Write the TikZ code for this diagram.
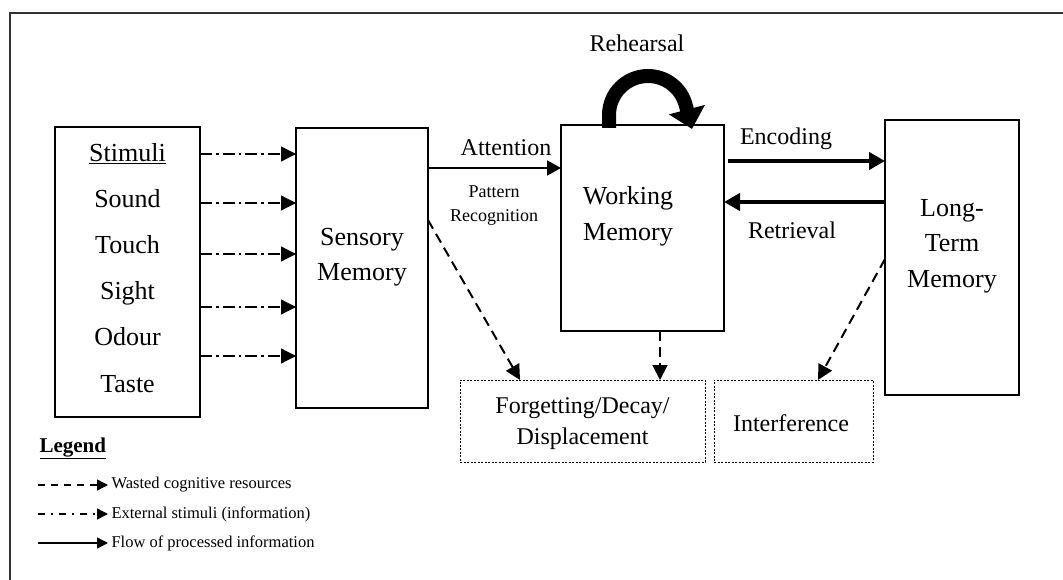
\documentclass[tikz,border=0pt]{standalone}
\usepackage{fontspec}
\setmainfont{Liberation Serif}
\usetikzlibrary{arrows.meta,calc}

\tikzset{
  big/.style={font=\fontsize{26bp}{35.5bp}\selectfont},
  mid/.style={font=\fontsize{24bp}{31bp}\selectfont},
  small/.style={font=\fontsize{18bp}{24bp}\selectfont},
  leg/.style={font=\fontsize{16.5bp}{20bp}\selectfont},
  stagebox/.style={draw, line width=1.8bp, inner sep=0pt, outer sep=0pt},
  outcomebox/.style={draw, line width=0.9bp, dash pattern=on 2bp off 1.5bp, inner sep=0pt, outer sep=0pt},
  extarrow/.style={line width=1.3bp, dash pattern=on 12bp off 4bp on 2.5bp off 4bp,
    -{Triangle[length=15bp,width=15bp]}},
  flowarrow/.style={line width=2bp, -{Triangle[length=14bp,width=15bp]}},
  heavyarrow/.style={line width=4.5bp, -{Triangle[length=16bp,width=17bp]}},
  wastearrow/.style={line width=2bp, dash pattern=on 10bp off 6bp,
    -{Triangle[length=15bp,width=15bp]}},
  loopback/.style={line width=14bp, -{Triangle[length=20bp,width=36bp]}},
  legwaste/.style={line width=1.5bp, dash pattern=on 7bp off 6bp, -{Triangle[length=11bp,width=11bp]}},
  legext/.style={line width=1.5bp, dash pattern=on 7bp off 6bp on 2bp off 6bp, -{Triangle[length=11bp,width=11bp]}},
  legflow/.style={line width=1.5bp, -{Triangle[length=11bp,width=11bp]}},
}

\begin{document}
\begin{tikzpicture}[x=1bp,y=-1bp]
\useasboundingbox (0,0) rectangle (1063,580);

% outer frame (top and left edges)
\draw[line width=2.2bp, black!80] (10,580) -- (10,13) -- (1063,13);

% main stages
\node[stagebox, minimum width=145bp, minimum height=290bp] (stim) at (127.5,272) {};
\node[stagebox, minimum width=132bp, minimum height=280bp] (sens) at (362,268) {};
\node[stagebox, minimum width=163bp, minimum height=206bp] (wm) at (642.5,228) {};
\node[stagebox, minimum width=134bp, minimum height=275bp] (ltm) at (952,257.5) {};
\node[outcomebox, minimum width=245bp, minimum height=82bp] (forget) at (582.5,421) {};
\node[outcomebox, minimum width=159bp, minimum height=82bp] (inter) at (793.5,421) {};

% stimuli list
\node[big, anchor=base] (s0) at (127.5,162) {\underline{Stimuli}};
\node[big, anchor=base] (s1) at (127.5,208) {Sound};
\node[big, anchor=base] (s2) at (127.5,254) {Touch};
\node[big, anchor=base] (s3) at (127.5,300) {Sight};
\node[big, anchor=base] (s4) at (127.5,345) {Odour};
\node[big, anchor=base] (s5) at (127.5,392) {Taste};

% box labels
\node[big, align=center] (senst) at (362,257) {Sensory\\Memory};
\node[big, align=center] (wmt) at (628,216.5) {Working\\Memory};
\node[big, align=center] (ltmt) at (952,246) {Long-\\Term\\Memory};
\node[mid, align=center] (forgett) at (582.5,424) {Forgetting/Decay/\\Displacement};
\node[mid, anchor=base] (intert) at (791,431.5) {Interference};

% external stimuli into sensory memory
\foreach \yy in {154,203,254,307,356}
  \draw[extarrow] (stim.east |- 0,\yy) -- (sens.west |- 0,\yy);

% attention
\draw[flowarrow] (sens.east |- 0,168) -- (wm.west |- 0,168);
\node[mid, anchor=base] (att) at (506,156) {Attention};
\node[small, align=center] (patt) at (494,206) {Pattern\\Recognition};

% encoding / retrieval
\draw[heavyarrow] ([xshift=4bp]wm.east |- 0,161) -- (ltm.west |- 0,161);
\draw[heavyarrow] (ltm.west |- 0,202) -- (wm.east |- 0,202);
\node[mid, anchor=base] (enc) at (786,145) {Encoding};
\node[mid, anchor=base] (ret) at (792,239) {Retrieval};

% rehearsal loop
\draw[loopback] ([xshift=-33.5bp,yshift=-3bp]wm.north) -- ++(0,-13)
  arc[start angle=180, end angle=345, radius=39] -- ([xshift=49.5bp,yshift=-4bp]wm.north);
\node[mid, anchor=base] (reh) at (637,52) {Rehearsal};

% wasted resources
\draw[wastearrow] (sens.east |- 0,220) -- (forget.north -| 520,0);
\draw[wastearrow] (wm.south -| 660,0) -- (forget.north -| 660,0);
\draw[wastearrow] (ltm.west |- 0,259) -- (inter.north -| 818,0);

% legend
\node[anchor=base west, font=\bfseries\fontsize{21bp}{24bp}\selectfont] (legt) at (36,452) {\underline{Legend}};
\node[leg, anchor=west] (l1) at (108,485) {Wasted cognitive resources};
\node[leg, anchor=west] (l2) at (108,514) {External stimuli (information)};
\node[leg, anchor=west] (l3) at (108,543) {Flow of processed information};
\draw[legwaste] ([xshift=-70bp]l1.west) -- (l1.west);
\draw[legext] ([xshift=-70bp]l2.west) -- (l2.west);
\draw[legflow] ([xshift=-70bp]l3.west) -- (l3.west);
\end{tikzpicture}
\end{document}
